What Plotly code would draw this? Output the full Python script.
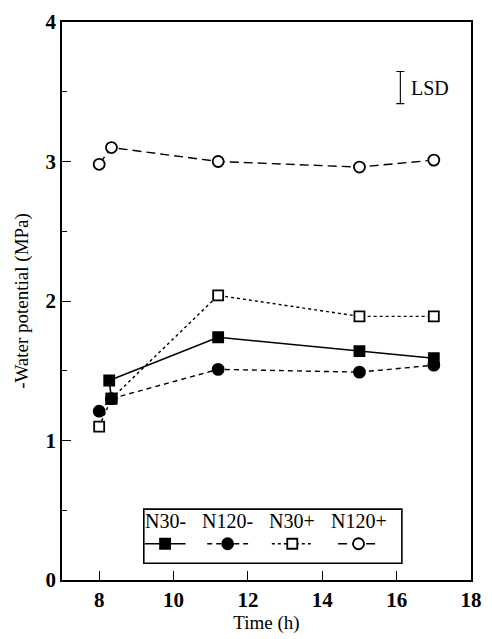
import plotly.graph_objects as go

# Sampling times (h) and -water potential (MPa) for each treatment
t_n30m = [8.33, 8.27, 11.2, 15.0, 17.0]
v_n30m = [1.30, 1.43, 1.74, 1.64, 1.59]

t_n120m = [8.0, 8.33, 11.2, 15.0, 17.0]
v_n120m = [1.21, 1.30, 1.51, 1.49, 1.54]

t_n30p = [8.0, 8.33, 11.2, 15.0, 17.0]
v_n30p = [1.10, 1.30, 2.04, 1.89, 1.89]

t_n120p = [8.0, 8.33, 11.2, 15.0, 17.0]
v_n120p = [2.98, 3.10, 3.00, 2.96, 3.01]

lsd_value = 0.23
lsd_x = 16.1
lsd_y = 3.53

x_ticks = [8, 10, 12, 14, 16, 18]
y_ticks = [0, 1, 2, 3, 4]

FONT = "'Liberation Serif', 'Times New Roman', Times, serif"
BLACK = "#000000"

# line dash, marker symbol, marker fill
styles = {
    "N30-": ("solid", "square", BLACK),
    "N120-": ("5px,4px", "circle", BLACK),
    "N30+": ("dot", "square", "white"),
    "N120+": ("9px,5px", "circle", "white"),
}
data = {
    "N30-": (t_n30m, v_n30m),
    "N120-": (t_n120m, v_n120m),
    "N30+": (t_n30p, v_n30p),
    "N120+": (t_n120p, v_n120p),
}

fig = go.Figure()

# draw order: open symbols first so filled ones sit on top
for name in ["N120+", "N30+", "N120-", "N30-"]:
    dash, sym, fill = styles[name]
    xs, ys = data[name]
    fig.add_trace(go.Scatter(
        x=xs, y=ys, mode="lines+markers", name=name,
        line=dict(color=BLACK, width=1.6 if name == "N30-" else 1.4, dash=dash),
        marker=dict(symbol=sym, size=10 if sym == "square" else 11, color=fill,
                    line=dict(color=BLACK, width=1.8)),
        showlegend=False,
    ))

# LSD bar
fig.add_trace(go.Scatter(
    x=[lsd_x], y=[lsd_y], mode="markers",
    marker=dict(size=1, color="rgba(0,0,0,0)"),
    error_y=dict(type="data", array=[lsd_value / 2], color=BLACK, thickness=1.1, width=4),
    showlegend=False,
))
fig.add_annotation(x=lsd_x + 0.22, y=lsd_y, text="LSD", showarrow=False, xanchor="left",
                   font=dict(family=FONT, size=20, color=BLACK))

# Legend block on an overlay axis spanning the plot area (0..1 in both directions)
legend_names = ["N30-", "N120-", "N30+", "N120+"]
legend_cx = [0.252, 0.405, 0.563, 0.725]
half = 0.05
row_y = 0.065
for name, cx in zip(legend_names, legend_cx):
    dash, sym, fill = styles[name]
    fig.add_trace(go.Scatter(
        x=[cx - half, cx + half], y=[row_y] * 2, xaxis="x2", yaxis="y2",
        mode="lines", line=dict(color=BLACK, width=1.4, dash=dash),
        showlegend=False,
    ))
    fig.add_trace(go.Scatter(
        x=[cx], y=[row_y], xaxis="x2", yaxis="y2", mode="markers",
        marker=dict(symbol=sym, size=10 if sym == "square" else 11, color=fill,
                    line=dict(color=BLACK, width=1.8)),
        showlegend=False,
    ))
    fig.add_annotation(x=cx, y=0.106, xref="x2", yref="y2", text=name, showarrow=False,
                       font=dict(family=FONT, size=20, color=BLACK), yanchor="middle")

fig.add_shape(type="rect", xref="x2", yref="y2", x0=0.2, x1=0.831, y0=0.030, y1=0.127,
              line=dict(color=BLACK, width=1.6), fillcolor="rgba(0,0,0,0)")

tick_font = dict(family=FONT, size=21, color=BLACK, weight="bold")
title_font = dict(family=FONT, size=19, color=BLACK)

fig.update_layout(
    width=492, height=639,
    margin=dict(l=62, r=10, t=17, b=57),
    paper_bgcolor="white", plot_bgcolor="white",
    font=dict(family=FONT, color=BLACK),
    xaxis=dict(
        range=[7, 18], tickvals=x_ticks, ticktext=[str(v) for v in x_ticks],
        ticks="inside", ticklen=9, tickwidth=1.3, tickcolor=BLACK,
        showline=True, linecolor=BLACK, linewidth=1.6, mirror=True,
        showgrid=False, zeroline=False, tickfont=tick_font,
        title=dict(text="Time (h)", font=title_font, standoff=4),
    ),
    yaxis=dict(
        range=[0, 4], tickvals=y_ticks, ticks="inside", ticklen=9, tickwidth=1.3, tickcolor=BLACK,
        minor=dict(dtick=0.5, ticks="inside", ticklen=5, tickwidth=1.1, tickcolor=BLACK, showgrid=False),
        showline=True, linecolor=BLACK, linewidth=1.6, mirror=True,
        showgrid=False, zeroline=False, tickfont=tick_font,
        title=dict(text="-Water potential (MPa)", font=title_font, standoff=12),
    ),
    xaxis2=dict(overlaying="x", range=[0, 1], visible=False, fixedrange=True),
    yaxis2=dict(overlaying="y", range=[0, 1], visible=False, fixedrange=True),
)

fig.write_html("out.html")
